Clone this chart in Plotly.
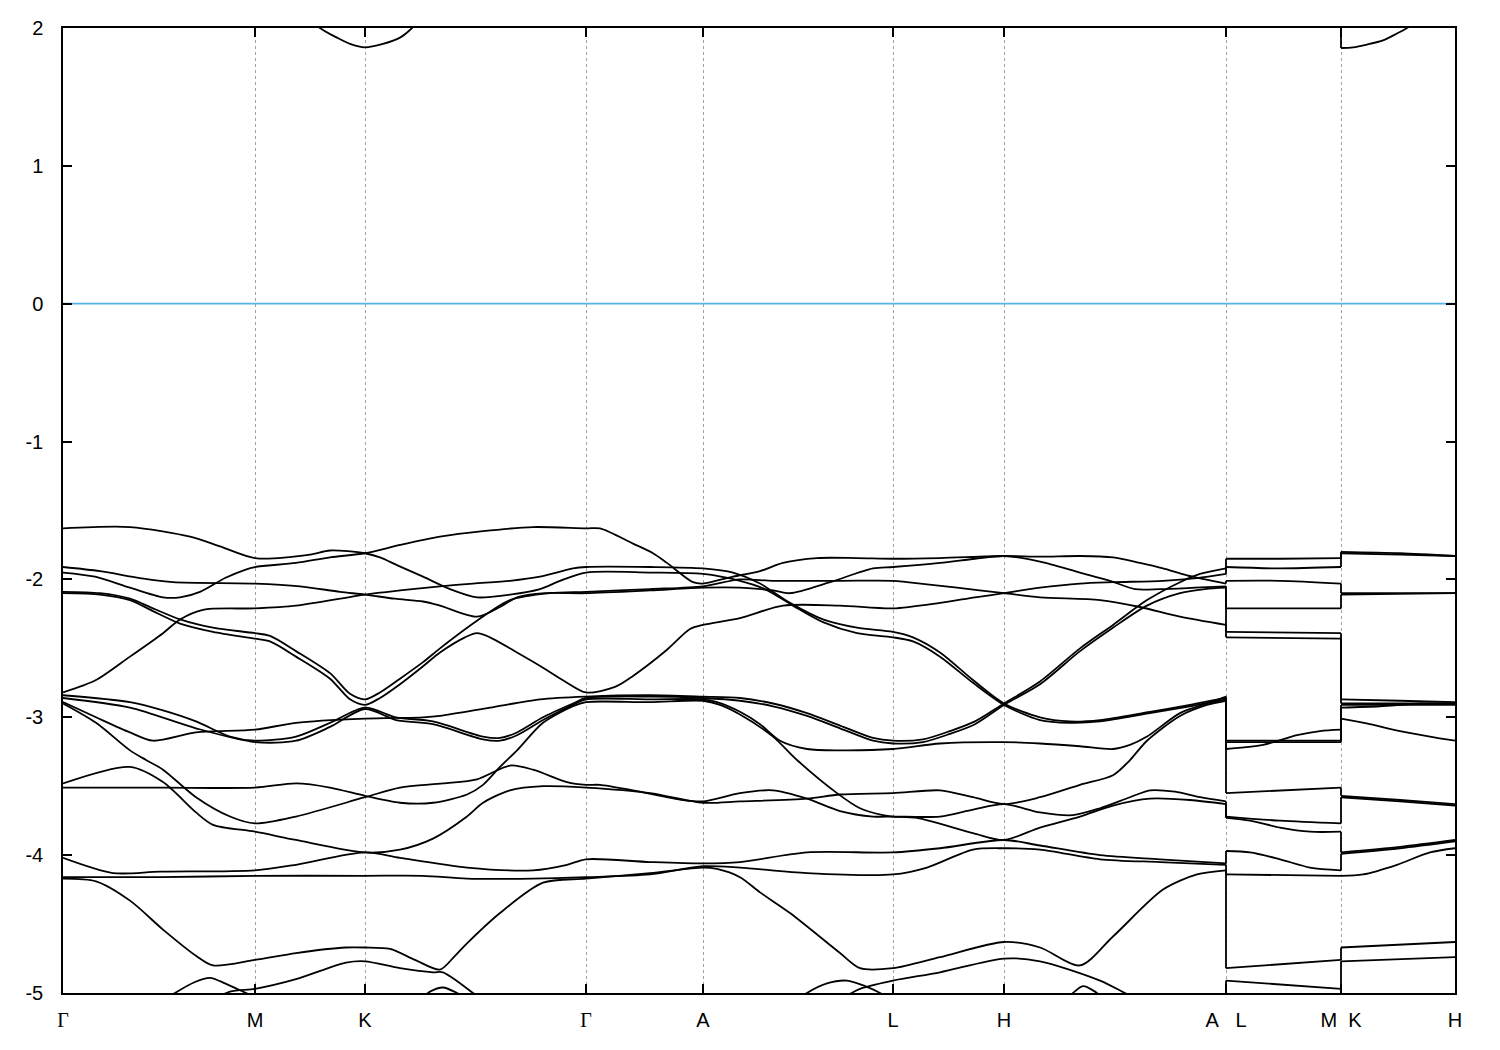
import plotly.graph_objects as go

# ---------------- data ----------------
# k-path coordinate (arbitrary units) of the high-symmetry points
K_TICKS = [0, 192, 302, 523, 640, 830, 941, 1163, 1278, 1392]
GAMMA = '<span style="font-family:Liberation Serif, Times New Roman, serif">Γ</span>'
K_LABELS = [GAMMA, "M", "K", GAMMA, "A", "L", "H",
            "A\u00a0\u00a0\u00a0L", "M\u00a0\u00a0K", "H"]
E_TICKS = [2, 1, 0, -1, -2, -3, -4, -5]
E_LABELS = ["2", "1", "0", "-1", "-2", "-3", "-4", "-5"]
E_RANGE = [-5, 2]
E_FERMI = 0.0

# main path Γ-M-K-Γ-A-L-H-A : (k, E) knots of each band
BAND_T = [(0,-1.95),(32,-1.98),(67,-2.06),(100,-2.13),(117,-2.13),(137,-2.09),(162,-1.99),(182,-1.93),(192,-1.91),(233,-1.88),(267,-1.84),(302,-1.81),(337,-1.75),(377,-1.69),(420,-1.65),(470,-1.62),(523,-1.63),(537,-1.63),(570,-1.74),(590,-1.81),(604,-1.88),(630,-2.02),(640,-2.03),(670,-1.98),(697,-1.94),(720,-1.88),(754,-1.845),(794,-1.845),(830,-1.85),(877,-1.845),(941,-1.83),(977,-1.835),(1017,-1.83),(1050,-1.84),(1077,-1.88),(1100,-1.92),(1124,-1.97),(1163,-2.03)]
BAND_A1 = [(0,-1.63),(67,-1.62),(127,-1.69),(157,-1.76),(192,-1.845),(247,-1.82),(267,-1.79),(302,-1.81),(317,-1.84),(335,-1.90),(360,-1.98),(387,-2.07),(414,-2.13),(447,-2.11),(477,-2.07),(497,-2.01),(523,-1.95),(587,-1.95),(640,-1.96),(677,-2.01),(702,-2.07),(730,-2.19),(760,-2.31),(794,-2.39),(830,-2.42),(850,-2.45),(877,-2.56),(910,-2.75),(941,-2.91),(977,-3.02),(1007,-3.04),(1037,-3.03),(1087,-2.97),(1127,-2.92),(1163,-2.87)]
BAND_A6 = [(0,-2.82),(33,-2.73),(67,-2.56),(100,-2.39),(117,-2.29),(140,-2.22),(192,-2.21),(233,-2.19),(302,-2.11),(337,-2.08),(377,-2.05),(410,-2.03),(447,-2.01),(477,-1.98),(510,-1.92),(523,-1.91),(587,-1.91),(640,-1.92),(670,-1.95),(697,-2.03),(727,-2.17),(760,-2.29),(794,-2.35),(830,-2.38),(850,-2.42),(877,-2.53),(910,-2.73),(941,-2.90),(977,-3.00),(1007,-3.03),(1037,-3.02),(1087,-2.96),(1127,-2.91),(1163,-2.86)]
BAND_A2 = [(0,-1.91),(37,-1.94),(77,-1.99),(110,-2.02),(192,-2.03),(237,-2.05),(277,-2.09),(302,-2.11),(332,-2.14),(360,-2.16),(377,-2.19),(414,-2.27),(437,-2.20),(454,-2.13),(482,-2.10),(523,-2.10),(587,-2.08),(640,-2.06),(677,-2.06),(710,-2.08),(727,-2.10),(767,-2.02),(810,-1.92),(830,-1.91),(877,-1.88),(912,-1.85),(941,-1.83),(977,-1.87),(1017,-1.95),(1047,-2.01),(1072,-2.07),(1097,-2.07),(1132,-2.06),(1163,-2.05)]
BAND_A4 = [(0,-2.09),(37,-2.10),(67,-2.14),(90,-2.21),(117,-2.29),(150,-2.35),(192,-2.39),(207,-2.41),(233,-2.52),(267,-2.68),(287,-2.83),(302,-2.87),(317,-2.82),(337,-2.72),(360,-2.60),(377,-2.50),(414,-2.30),(447,-2.15),(487,-2.10),(523,-2.09),(587,-2.07),(640,-2.05),(677,-2.00),(710,-2.01),(777,-2.01),(830,-2.01),(844,-2.02),(894,-2.06),(941,-2.10),(977,-2.13),(1037,-2.15),(1077,-2.20),(1117,-2.27),(1163,-2.33)]
BAND_A5 = [(0,-2.10),(37,-2.11),(67,-2.15),(90,-2.23),(117,-2.32),(150,-2.38),(192,-2.43),(207,-2.45),(233,-2.56),(267,-2.72),(287,-2.87),(302,-2.91),(317,-2.86),(337,-2.76),(360,-2.63),(377,-2.53),(402,-2.42),(414,-2.39),(427,-2.42),(454,-2.53),(480,-2.64),(502,-2.74),(523,-2.82),(552,-2.78),(570,-2.70),(604,-2.51),(627,-2.36),(640,-2.33),(677,-2.28),(720,-2.19),(777,-2.19),(830,-2.21),(877,-2.17),(912,-2.13),(941,-2.10),(977,-2.06),(1017,-2.03),(1050,-2.02),(1100,-2.01),(1134,-1.99),(1163,-1.96)]
BAND_C4 = [(0,-2.89),(33,-3.00),(67,-3.11),(90,-3.17),(133,-3.11),(192,-3.09),(233,-3.04),(302,-3.01),(360,-3.00),(377,-2.99),(427,-2.93),(477,-2.87),(523,-2.85),(587,-2.84),(640,-2.85),(677,-2.86),(710,-2.90),(744,-2.97),(777,-3.06),(810,-3.15),(830,-3.17),(860,-3.16),(887,-3.10),(912,-3.03),(941,-2.90),(977,-2.74),(1017,-2.50),(1050,-2.33),(1084,-2.15),(1117,-2.02),(1137,-1.96),(1163,-1.92)]
BAND_C2 = [(0,-2.84),(67,-2.89),(100,-2.95),(133,-3.03),(167,-3.14),(192,-3.17),(233,-3.14),(267,-3.04),(302,-2.93),(333,-3.00),(370,-3.03),(420,-3.14),(437,-3.15),(454,-3.11),(480,-3.00),(510,-2.90),(523,-2.86),(587,-2.85),(640,-2.86),(677,-2.88),(710,-2.92),(744,-2.99),(777,-3.08),(810,-3.17),(830,-3.19),(860,-3.18),(887,-3.12),(912,-3.05),(941,-2.91),(977,-2.76),(1017,-2.52),(1050,-2.35),(1084,-2.19),(1117,-2.10),(1142,-2.07),(1163,-2.06)]
BAND_C3 = [(0,-2.86),(67,-2.93),(133,-3.08),(192,-3.18),(233,-3.17),(267,-3.07),(302,-2.94),(333,-3.02),(370,-3.05),(420,-3.16),(437,-3.17),(454,-3.13),(480,-3.02),(510,-2.91),(523,-2.87),(587,-2.87),(640,-2.87),(654,-2.89),(677,-2.96),(697,-3.05),(717,-3.17),(744,-3.23),(777,-3.24),(830,-3.23),(877,-3.19),(941,-3.18),(977,-3.19),(1017,-3.21),(1050,-3.23),(1067,-3.20),(1084,-3.14),(1117,-2.97),(1144,-2.90),(1163,-2.85)]
BAND_C7 = [(0,-3.51),(100,-3.51),(192,-3.51),(233,-3.48),(267,-3.51),(302,-3.57),(337,-3.62),(370,-3.62),(404,-3.56),(420,-3.49),(437,-3.36),(454,-3.24),(480,-3.04),(510,-2.92),(523,-2.89),(587,-2.89),(640,-2.88),(657,-2.91),(677,-2.98),(710,-3.14),(734,-3.31),(774,-3.55),(797,-3.66),(820,-3.71),(830,-3.72),(854,-3.73),(910,-3.84),(941,-3.89),(977,-3.80),(1017,-3.72),(1050,-3.64),(1087,-3.59),(1127,-3.60),(1163,-3.63)]
BAND_C5 = [(0,-2.90),(33,-3.04),(67,-3.24),(83,-3.31),(100,-3.38),(133,-3.58),(167,-3.72),(192,-3.77),(233,-3.72),(302,-3.58),(337,-3.51),(380,-3.48),(414,-3.45),(447,-3.35),(470,-3.38),(504,-3.47),(523,-3.49),(537,-3.49),(570,-3.53),(620,-3.60),(640,-3.61),(677,-3.55),(710,-3.53),(744,-3.59),(777,-3.68),(810,-3.72),(830,-3.72),(877,-3.72),(910,-3.67),(941,-3.63),(977,-3.69),(1010,-3.71),(1037,-3.66),(1067,-3.58),(1087,-3.53),(1112,-3.54),(1137,-3.58),(1163,-3.61)]
BAND_C6 = [(0,-3.48),(67,-3.36),(100,-3.47),(133,-3.69),(150,-3.78),(192,-3.83),(233,-3.89),(302,-3.98),(337,-3.96),(370,-3.88),(404,-3.72),(420,-3.62),(447,-3.53),(480,-3.50),(523,-3.51),(587,-3.55),(640,-3.62),(677,-3.61),(744,-3.59),(777,-3.56),(830,-3.55),(877,-3.53),(910,-3.58),(941,-3.63),(977,-3.58),(1017,-3.49),(1050,-3.42),(1067,-3.31),(1084,-3.17),(1117,-2.99),(1144,-2.91),(1163,-2.88)]
BAND_C8 = [(0,-4.02),(50,-4.13),(97,-4.12),(192,-4.11),(233,-4.07),(302,-3.98),(337,-4.02),(404,-4.09),(470,-4.11),(504,-4.07),(523,-4.03),(587,-4.05),(640,-4.06),(677,-4.05),(744,-3.98),(830,-3.98),(877,-3.95),(941,-3.89),(977,-3.93),(1037,-4.00),(1097,-4.03),(1163,-4.06)]
BAND_C9 = [(0,-4.16),(97,-4.16),(192,-4.15),(302,-4.15),(360,-4.15),(404,-4.17),(470,-4.17),(523,-4.16),(587,-4.14),(640,-4.08),(677,-4.09),(744,-4.13),(830,-4.14),(864,-4.09),(910,-3.96),(941,-3.95),(977,-3.96),(1037,-4.03),(1097,-4.05),(1163,-4.07)]
BAND_C10 = [(0,-4.17),(33,-4.19),(67,-4.33),(100,-4.54),(133,-4.73),(150,-4.80),(192,-4.76),(233,-4.71),(283,-4.67),(302,-4.67),(327,-4.68),(352,-4.76),(377,-4.83),(392,-4.73),(404,-4.64),(437,-4.42),(480,-4.20),(523,-4.17),(587,-4.13),(640,-4.09),(654,-4.10),(677,-4.16),(697,-4.27),(727,-4.42),(777,-4.71),(797,-4.82),(830,-4.82),(877,-4.74),(941,-4.63),(977,-4.67),(1017,-4.80),(1050,-4.59),(1100,-4.25),(1134,-4.14),(1163,-4.11)]
BAND_C11 = [(137,-5.10),(167,-4.99),(192,-4.97),(233,-4.90),(283,-4.78),(302,-4.77),(337,-4.82),(370,-4.85),(380,-4.85),(410,-5.00),(427,-5.10)]
BAND_G = [(777,-5.05),(797,-4.97),(830,-4.91),(877,-4.85),(941,-4.75),(977,-4.77),(1037,-4.91),(1077,-5.05),(1163,-5.20)]
BUMP_1 = [(82,-5.15),(112,-5.00),(132,-4.92),(147,-4.89),(162,-4.93),(177,-4.98),(207,-5.08)]
BUMP_2 = [(357,-5.05),(367,-4.99),(380,-4.96),(394,-5.00),(407,-5.06)]
BUMP_3 = [(727,-5.10),(744,-5.00),(764,-4.93),(784,-4.91),(802,-4.95),(817,-5.00),(837,-5.10)]
BUMP_4 = [(997,-5.10),(1010,-5.00),(1020,-4.95),(1032,-4.99),(1042,-5.05)]
CB_MAIN = [(0,3.0),(137,2.6),(237,2.15),(257,2.0),(274,1.93),(287,1.885),(302,1.86),(320,1.885),(337,1.93),(349,2.0),(367,2.15),(437,2.6),(523,3.0),(640,2.9),(830,2.8),(941,2.7),(1163,2.9)]

# L-M segment
LM_1 = [(1163,-1.85),(1217,-1.85),(1278,-1.845)]
LM_2 = [(1163,-1.91),(1217,-1.92),(1278,-1.91)]
LM_3 = [(1163,-2.01),(1217,-2.01),(1278,-2.03)]
LM_4 = [(1163,-2.21),(1217,-2.21),(1278,-2.21)]
LM_5 = [(1163,-2.38),(1278,-2.39)]
LM_6 = [(1163,-2.42),(1278,-2.43)]
LM_7 = [(1163,-3.17),(1278,-3.17)]
LM_8 = [(1163,-3.18),(1278,-3.18)]
LM_9 = [(1163,-3.23),(1200,-3.20),(1234,-3.13),(1257,-3.10),(1278,-3.09)]
LM_10 = [(1163,-3.55),(1278,-3.51)]
LM_11 = [(1163,-3.72),(1217,-3.75),(1278,-3.77)]
LM_12 = [(1163,-3.73),(1187,-3.75),(1217,-3.80),(1247,-3.83),(1278,-3.83)]
LM_13 = [(1163,-3.97),(1187,-3.98),(1217,-4.03),(1247,-4.09),(1278,-4.11)]
LM_14 = [(1163,-4.14),(1278,-4.15)]
LM_15 = [(1163,-4.82),(1278,-4.76)]
LM_16 = [(1163,-4.91),(1278,-4.97)]
LM_CB = [(1163,2.8),(1278,2.6)]

# K-H segment
KH_1 = [(1278,-1.80),(1337,-1.81),(1392,-1.83)]
KH_2 = [(1278,-1.81),(1337,-1.82),(1392,-1.83)]
KH_3 = [(1278,-2.10),(1392,-2.10)]
KH_4 = [(1278,-2.11),(1392,-2.10)]
KH_5 = [(1278,-2.87),(1337,-2.88),(1392,-2.89)]
KH_6 = [(1278,-2.90),(1392,-2.90)]
KH_7 = [(1278,-2.91),(1392,-2.91)]
KH_8 = [(1278,-2.93),(1317,-2.92),(1357,-2.90),(1392,-2.90)]
KH_9 = [(1278,-3.01),(1307,-3.05),(1337,-3.10),(1367,-3.14),(1392,-3.17)]
KH_10 = [(1278,-3.57),(1337,-3.60),(1392,-3.63)]
KH_11 = [(1278,-3.58),(1337,-3.61),(1392,-3.64)]
KH_12 = [(1278,-3.98),(1337,-3.94),(1392,-3.89)]
KH_13 = [(1278,-3.99),(1337,-3.95),(1392,-3.90)]
KH_14 = [(1278,-4.15),(1300,-4.14),(1334,-4.07),(1367,-3.98),(1392,-3.95)]
KH_15 = [(1278,-4.67),(1392,-4.63)]
KH_16 = [(1278,-4.77),(1392,-4.74)]
KH_CB = [(1278,1.855),(1290,1.86),(1304,1.88),(1320,1.91),(1334,1.96),(1344,2.0),(1370,2.15),(1392,2.3)]

MAIN_BANDS = [BAND_T, BAND_A1, BAND_A6, BAND_A2, BAND_A4, BAND_A5, BAND_C4, BAND_C2,
              BAND_C3, BAND_C7, BAND_C5, BAND_C6, BAND_C8, BAND_C9, BAND_C10, BAND_C11,
              BAND_G, BUMP_1, BUMP_2, BUMP_3, BUMP_4, CB_MAIN]
LM_BANDS = [LM_1, LM_2, LM_3, LM_4, LM_5, LM_6, LM_7, LM_8, LM_9, LM_10, LM_11, LM_12,
            LM_13, LM_14, LM_15, LM_16, LM_CB]
KH_BANDS = [KH_1, KH_2, KH_3, KH_4, KH_5, KH_6, KH_7, KH_8, KH_9, KH_10, KH_11, KH_12,
            KH_13, KH_14, KH_15, KH_16, KH_CB]

# ---------------- figure ----------------
BAND_STYLE = dict(color="black", width=1.8, shape="spline", smoothing=0.8)
fig = go.Figure()

fig.add_trace(go.Scatter(x=[K_TICKS[0], K_TICKS[-1]], y=[E_FERMI, E_FERMI], mode="lines",
                         line=dict(color="#56B4E9", width=1.8), hoverinfo="skip"))

for band in MAIN_BANDS + LM_BANDS + KH_BANDS:
    fig.add_trace(go.Scatter(x=[p[0] for p in band], y=[p[1] for p in band],
                             mode="lines", line=BAND_STYLE, hoverinfo="skip"))


def seg_ends(bands, k, first):
    vals = []
    for b in bands:
        p = b[0] if first else b[-1]
        if p[0] == k:
            vals.append(p[1])
    return sorted(vals, reverse=True)


# gnuplot-style jumps where the path is discontinuous (band index kept)
for k, left, right in [(K_TICKS[7], MAIN_BANDS, LM_BANDS), (K_TICKS[8], LM_BANDS, KH_BANDS)]:
    lv = seg_ends(left, k, first=False)
    rv = seg_ends(right, k, first=True)
    xs, ys = [], []
    for a, b in zip(lv, rv):
        xs += [k, k, None]
        ys += [a, b, None]
    fig.add_trace(go.Scatter(x=xs, y=ys, mode="lines",
                             line=dict(color="black", width=1.8), hoverinfo="skip"))

FONT = dict(family="Liberation Sans, Arial, sans-serif", size=20, color="black")
fig.update_layout(
    width=1500, height=1050,
    margin=dict(l=63, r=45, t=28, b=57),
    paper_bgcolor="white", plot_bgcolor="white",
    showlegend=False, font=FONT,
    xaxis=dict(range=[K_TICKS[0], K_TICKS[-1]], tickvals=K_TICKS, ticktext=K_LABELS,
               ticks="inside", ticklen=9, tickwidth=1.5, tickcolor="black",
               showline=True, linecolor="black", linewidth=1.5, mirror="ticks",
               showgrid=True, gridcolor="#a0a0a0", gridwidth=1, griddash="dot",
               zeroline=False, tickfont=FONT, ticklabelstandoff=8),
    yaxis=dict(range=E_RANGE, tickvals=E_TICKS, ticktext=E_LABELS,
               ticks="inside", ticklen=9, tickwidth=1.5, tickcolor="black",
               showline=True, linecolor="black", linewidth=1.5, mirror="ticks",
               showgrid=False, zeroline=False, tickfont=FONT, ticklabelstandoff=14),
)

fig.write_html("out.html", config={"displayModeBar": False},
               post_script="document.body.style.margin='0';")
